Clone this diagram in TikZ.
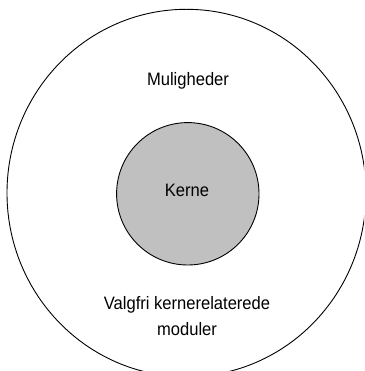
\documentclass[tikz,border=0pt]{standalone}
\usepackage{fontspec}
\setmainfont{Liberation Sans}[FakeStretch=0.92]
\definecolor{kernegray}{HTML}{C0C0C0}
\tikzset{
  ring/.style={draw=black, line width=0.9pt},
  label/.style={font=\fontsize{18}{26}\selectfont, inner sep=0pt, align=center}
}
\begin{document}
\begin{tikzpicture}[x=1pt,y=-1pt]
\useasboundingbox (0,0) rectangle (364,371);
\clip (0,0) rectangle (364,371);
\draw[ring] (186.5,193) ellipse [x radius=179.5, y radius=183.7];
\node[ring, fill=kernegray, circle, minimum size=142.4pt, inner sep=0pt] (kerne) at (187.8,193.8) {};
\node[label, anchor=base] (kernetxt) at (187,196) {Kerne};
\node[label, anchor=base] (muligheder) at (188,86) {Muligheder};
\node[label, anchor=base] (valgfri) at (187,335) {Valgfri kernerelaterede\\moduler};
\end{tikzpicture}
\end{document}
